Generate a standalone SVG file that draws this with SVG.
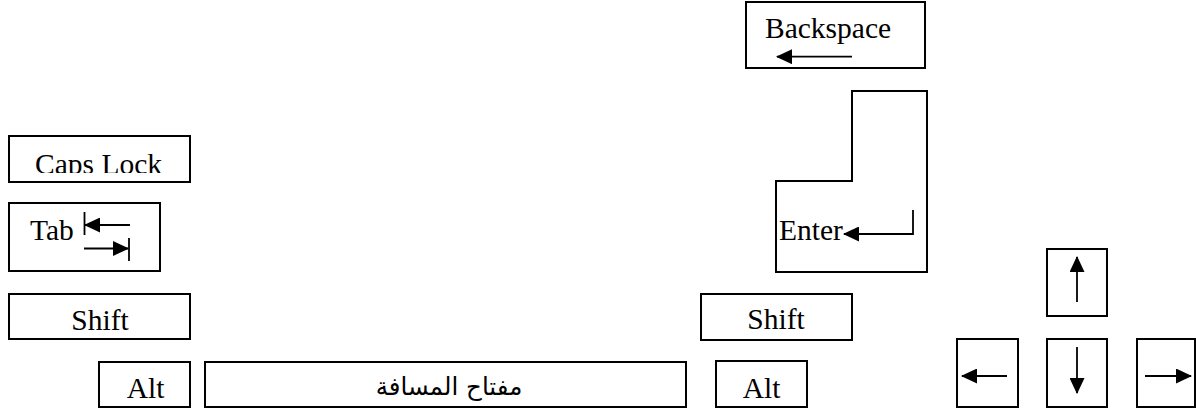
<svg xmlns="http://www.w3.org/2000/svg" width="1196" height="411" viewBox="0 0 1196 411">
<style>
.k{fill:#fff;stroke:#000;stroke-width:2}
.t{font-family:"Liberation Serif","Times New Roman",serif;font-size:29.5px;fill:#000}
.ar{font-family:"DejaVu Sans",sans-serif;font-size:24.5px;fill:#000}
.a{stroke:#000;stroke-width:1.8;fill:none}
</style>
<defs>
<marker id="ah" markerUnits="userSpaceOnUse" markerWidth="16" markerHeight="15" refX="15" refY="7.5" orient="auto">
<path d="M0,0 L16,7.5 L0,15 z" fill="#000"/>
</marker>
<clipPath id="capsclip"><rect x="9" y="136" width="181" height="37"/></clipPath>
</defs>
<rect width="1196" height="411" fill="#fff"/>
<g id="backspace">
<rect class="k" x="746" y="2" width="179" height="66"/>
<text class="t" x="765" y="38">Backspace</text>
<line class="a" x1="852" y1="56.7" x2="777" y2="56.7" marker-end="url(#ah)"/>
</g>
<g id="enter">
<path class="k" d="M852,91 H927 V272 H776 V181 H852 Z"/>
<text class="t" x="779" y="240">Enter</text>
<polyline class="a" points="913,210 913,234 844,234" marker-end="url(#ah)"/>
</g>
<g id="capslock">
<rect class="k" x="9" y="136" width="181" height="46"/>
<text class="t" x="35" y="174" clip-path="url(#capsclip)">Caps Lock</text>
</g>
<g id="tab">
<rect class="k" x="9" y="203" width="151" height="68"/>
<text class="t" x="30" y="240">Tab</text>
<line class="a" x1="84.5" y1="212" x2="84.5" y2="235"/>
<line class="a" x1="130" y1="225" x2="85" y2="225" marker-end="url(#ah)"/>
<line class="a" x1="84" y1="248.5" x2="128" y2="248.5" marker-end="url(#ah)"/>
<line class="a" x1="129" y1="238" x2="129" y2="261"/>
</g>
<g id="shift-left">
<rect class="k" x="9" y="294" width="181" height="45"/>
<text class="t" x="100" y="330" text-anchor="middle">Shift</text>
</g>
<g id="alt-left">
<rect class="k" x="99" y="362" width="91" height="45"/>
<text class="t" x="145.5" y="398" text-anchor="middle">Alt</text>
</g>
<g id="space">
<rect class="k" x="205" y="362" width="481" height="45"/>
<text class="ar" x="449" y="395" text-anchor="middle" direction="rtl">مفتاح  المسافة</text>
</g>
<g id="shift-right">
<rect class="k" x="701" y="294" width="151" height="46"/>
<text class="t" x="776" y="329" text-anchor="middle">Shift</text>
</g>
<g id="alt-right">
<rect class="k" x="716" y="361" width="91" height="46"/>
<text class="t" x="761.5" y="398" text-anchor="middle">Alt</text>
</g>
<g id="up">
<rect class="k" x="1047" y="249" width="60" height="67"/>
<line class="a" x1="1077" y1="302" x2="1077" y2="257" marker-end="url(#ah)"/>
</g>
<g id="left">
<rect class="k" x="957" y="339" width="61" height="68"/>
<line class="a" x1="1007" y1="376" x2="962" y2="376" marker-end="url(#ah)"/>
</g>
<g id="down">
<rect class="k" x="1047" y="339" width="60" height="68"/>
<line class="a" x1="1077" y1="347" x2="1077" y2="393" marker-end="url(#ah)"/>
</g>
<g id="right">
<rect class="k" x="1137" y="339" width="58" height="68"/>
<line class="a" x1="1145" y1="376" x2="1191" y2="376" marker-end="url(#ah)"/>
</g>
<g id="connectors"/>
</svg>
